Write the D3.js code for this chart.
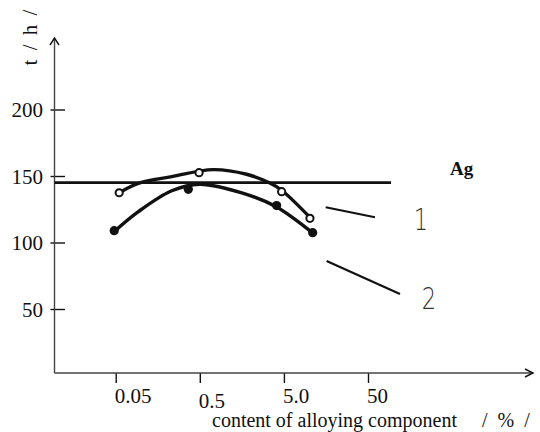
<!DOCTYPE html>
<html><head><meta charset="utf-8">
<script src="https://cdn.jsdelivr.net/npm/d3@7"></script>
<style>
html,body{margin:0;padding:0;background:#fff;}
svg{display:block;}
svg text{font-family:'Liberation Serif','Times New Roman',Times,serif !important;}
svg text.lbl{font-family:'DejaVu Sans',sans-serif !important;}
</style></head>
<body><svg id="c" width="540" height="432"></svg>
<script>
// ---- data ----
const yTicks = [50, 100, 150, 200];
const xTicks = [0.05, 0.5, 5, 50];
const xTickLabels = ["0.05", "0.5", "5.0", "50"];
// measured points (markers)
const series1X = [0.055, 0.49, 4.7, 10.2];
const series1Y = [137.4, 152.5, 138.2, 118.2];
const series2X = [0.048, 0.365, 4.1, 11.0];
const series2Y = [108.9, 140.0, 127.8, 107.4];
// hand-drawn curve traces
const curve1X = [0.055, 0.093, 0.232, 0.72, 1.8, 3.4, 4.7, 10.3];
const curve1Y = [137.4, 144.5, 149.5, 154.8, 151.3, 144.7, 139.3, 118.6];
const curve2X = [0.049, 0.093, 0.232, 0.5, 1.8, 4.05, 11.1];
const curve2Y = [108.7, 123.2, 138.9, 143.8, 136.2, 126.9, 107.0];
const refLevel = 145;
const refXEnd = 94;
const seriesLabels = ["1", "2"];
const labelPos = [[213, 109.4], [265, 50]];
const leaderLines = [[[15.7, 126.5], [60.5, 119]], [[16.1, 86.1], [120, 61.3]]];
const elementLabel = "Ag";
const elementPos = [472, 150.8];
const xTitle = "content of alloying component     /  %  /";
const yTitle = "t / h /";

// ---- layout ----
const svg = d3.select("#c");
const x = d3.scaleLog().domain([0.05, 50]).range([115.7, 368]);
const y = d3.scaleLinear().domain([50, 200]).range([309, 109.5]);
const axisX = 54.5, axisY = 373, axisTop = 38, axisRight = 533;
const ink = "#111";
const axisInk = "#444";

// y axis
const gy = svg.append("g").attr("transform", `translate(${axisX},0)`)
  .call(d3.axisLeft(y).tickValues(yTicks).tickSize(4).tickPadding(11).tickFormat(d3.format("d")));
gy.select(".domain").remove();
gy.selectAll(".tick line").attr("x1", -4).attr("x2", 10.5).attr("stroke", ink).attr("stroke-width", 1.4);
gy.selectAll(".tick text").attr("font-size", 21).attr("fill", "#111")
  .attr("x", -11.5).attr("dy", "0.35em");
svg.append("line").attr("x1", axisX).attr("x2", axisX).attr("y1", axisY).attr("y2", axisTop)
  .attr("stroke", axisInk).attr("stroke-width", 1.4);
svg.append("path").attr("d", `M${axisX-4.5},${axisTop+7}L${axisX},${axisTop}L${axisX+4.5},${axisTop+7}`)
  .attr("fill", "none").attr("stroke", ink).attr("stroke-width", 1.4);

// x axis
const gx = svg.append("g").attr("transform", `translate(0,${axisY})`)
  .call(d3.axisBottom(x).tickValues(xTicks).tickSize(10).tickFormat((d, i) => xTickLabels[i]));
gx.select(".domain").remove();
gx.selectAll(".tick line").attr("stroke", ink).attr("stroke-width", 1.4);
gx.selectAll(".tick text").attr("font-size", 21).attr("fill", "#111")
  .attr("text-anchor", "start")
  .attr("x", -1.5).attr("y", (d, i) => i === 1 ? 35 : 30).attr("dy", 0);
svg.append("line").attr("x1", axisX).attr("x2", axisRight).attr("y1", axisY).attr("y2", axisY)
  .attr("stroke", axisInk).attr("stroke-width", 1.4);
svg.append("path").attr("d", `M${axisRight-8},${axisY-4}L${axisRight},${axisY}L${axisRight-8},${axisY+4}`)
  .attr("fill", "none").attr("stroke", ink).attr("stroke-width", 1.4);

// titles
svg.append("text").attr("x", 212).attr("y", 427).attr("font-size", 20).attr("fill", "#111")
  .attr("xml:space", "preserve").style("white-space", "pre").text(xTitle);
svg.append("text").attr("transform", "translate(37,37.5) rotate(-90)").attr("text-anchor", "middle")
  .attr("font-size", 21).attr("fill", "#111").attr("word-spacing", 4).text(yTitle);

// reference line
svg.append("line").attr("x1", axisX).attr("x2", x(refXEnd)).attr("y1", y(refLevel)).attr("y2", y(refLevel))
  .attr("stroke", ink).attr("stroke-width", 2.6);

// curves
const c1 = curve1X.map((v, i) => [v, curve1Y[i]]);
const c2 = curve2X.map((v, i) => [v, curve2Y[i]]);
const line = d3.line().x(d => x(d[0])).y(d => y(d[1])).curve(d3.curveCatmullRom.alpha(0.5));
[c1, c2].forEach(s => {
  svg.append("path").attr("d", line(s)).attr("fill", "none").attr("stroke", ink)
    .attr("stroke-width", 3.4).attr("stroke-linecap", "round").attr("stroke-linejoin", "round");
});

// markers
const s1 = series1X.map((v, i) => [v, series1Y[i]]);
const s2 = series2X.map((v, i) => [v, series2Y[i]]);
svg.selectAll("circle.s1").data(s1).enter().append("circle")
  .attr("cx", d => x(d[0])).attr("cy", d => y(d[1])).attr("r", 3.6)
  .attr("fill", "#fff").attr("stroke", ink).attr("stroke-width", 2);
svg.selectAll("circle.s2").data(s2).enter().append("circle")
  .attr("cx", d => x(d[0])).attr("cy", d => y(d[1])).attr("r", 4.6)
  .attr("fill", ink);

// leaders and labels
leaderLines.forEach(l => {
  svg.append("line").attr("x1", x(l[0][0])).attr("y1", y(l[0][1]))
    .attr("x2", x(l[1][0])).attr("y2", y(l[1][1])).attr("stroke", ink).attr("stroke-width", 2.2);
});
seriesLabels.forEach((t, i) => {
  const px = x(labelPos[i][0]), py = y(labelPos[i][1]);
  svg.append("text").attr("class", "lbl").attr("x", px).attr("y", py)
    .attr("text-anchor", "middle").attr("font-size", 30).attr("fill", "#333")
    .attr("font-weight", 200)
    .attr("transform", `translate(${px},${py}) scale(0.75,1) translate(${-px},${-py})`)
    .text(t);
});
svg.append("text").attr("x", x(elementPos[0])).attr("y", y(elementPos[1]))
  .attr("font-size", 19).attr("font-weight", "bold").attr("fill", "#111").text(elementLabel);
</script>
</body></html>
